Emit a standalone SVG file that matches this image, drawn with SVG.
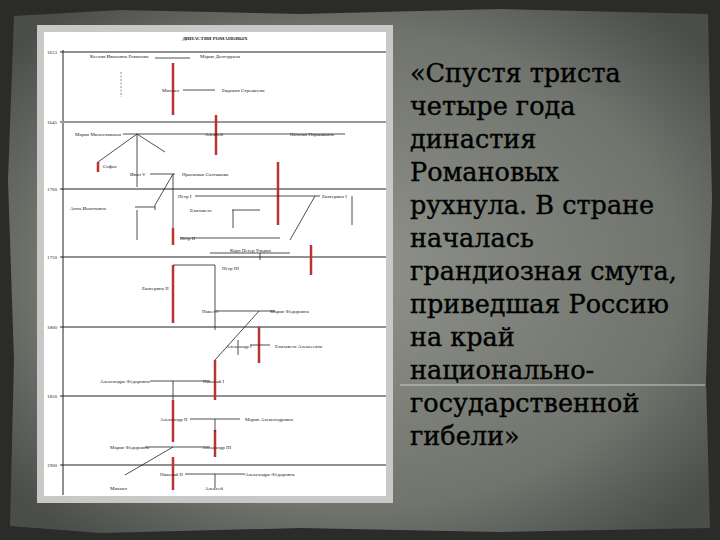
<svg xmlns="http://www.w3.org/2000/svg" width="720" height="540" viewBox="0 0 720 540">
<defs>
<radialGradient id="bg" cx="50%" cy="50%" r="65%">
<stop offset="0" stop-color="#8e928b"/><stop offset="0.7" stop-color="#70746d"/><stop offset="1" stop-color="#4a4d48"/>
</radialGradient>
<style>
.y{stroke:#222;stroke-width:1}
.r{stroke:#b33;stroke-width:2.5}
.c{stroke:#222;stroke-width:0.8;fill:none}
.d{stroke:#444;stroke-width:0.6;stroke-dasharray:2 1.5;fill:none}
.t{font-family:"Liberation Serif",serif;font-size:5px;fill:#222}
.m{font-family:"DejaVu Serif","Liberation Serif",serif;font-size:25.5px;fill:#000;stroke:#000;stroke-width:0.4}
</style>
</defs>
<rect width="720" height="540" fill="#2b2c2a"/>
<path d="M14 16 L120 10 L300 14 L500 9 L708 14 L712 200 L706 380 L710 528 L500 532 L300 528 L100 533 L10 526 L14 360 L8 180 Z" fill="url(#bg)"/>
<g id="tree">
<rect x="37" y="25" width="356" height="478" fill="#c8c8c8"/>
<rect x="44" y="32" width="342" height="464" fill="#fff"/>
<text class="t" x="215" y="40" text-anchor="middle" font-weight="bold">ДИНАСТИЯ РОМАНОВЫХ</text>
<line class="y" x1="63" y1="50" x2="63" y2="495"/>
<g class="y">
<line x1="60" y1="52" x2="386" y2="52"/>
<line x1="60" y1="122" x2="386" y2="122" stroke-width="2" stroke="#999"/>
<line x1="60" y1="189" x2="386" y2="189"/>
<line x1="60" y1="257" x2="386" y2="257"/>
<line x1="60" y1="327" x2="386" y2="327"/>
<line x1="60" y1="396" x2="386" y2="396"/>
<line x1="60" y1="465" x2="386" y2="465"/>
</g>
<g class="t" font-size="4">
<text x="47" y="54">1613</text><text x="47" y="124">1645</text><text x="47" y="191">1700</text>
<text x="47" y="259">1750</text><text x="47" y="329">1800</text><text x="47" y="398">1850</text><text x="47" y="467">1900</text>
</g>
<g class="r">
<line x1="173" y1="63" x2="173" y2="115"/><line x1="216" y1="115" x2="216" y2="155"/>
<line x1="98" y1="162" x2="98" y2="172"/><line x1="278" y1="162" x2="278" y2="225"/>
<line x1="173" y1="228" x2="173" y2="245"/><line x1="311" y1="245" x2="311" y2="275"/>
<line x1="173" y1="265" x2="173" y2="323"/><line x1="259" y1="327" x2="259" y2="363"/>
<line x1="215" y1="360" x2="215" y2="400"/><line x1="173" y1="400" x2="173" y2="442"/>
<line x1="215" y1="430" x2="215" y2="457"/><line x1="173" y1="457" x2="173" y2="490"/>
</g>
<line class="d" x1="121" y1="72" x2="121" y2="97"/>
<g class="c">
<path d="M155 58 H190"/><path d="M183 90 H215"/>
<path d="M123 134 H345"/><path d="M137 134 V187"/><path d="M137 134 L98 162"/><path d="M137 134 L165 152"/>
<path d="M150 174 H175"/><path d="M173 174 V228"/><path d="M173 174 L155 205"/><path d="M155 205 V210"/>
<path d="M135 207 H155"/><path d="M137 210 V240"/>
<path d="M195 196 H320"/><path d="M315 196 L290 240"/><path d="M352 196 V225"/>
<path d="M232 210 H260"/><path d="M233 210 V228"/><path d="M180 238 H280"/>
<path d="M210 253 H290"/><path d="M260 253 V260"/>
<path d="M173 265 H215"/><path d="M215 265 V330"/><path d="M215 311 H275"/>
<path d="M259 311 L215 360"/><path d="M238 340 V355"/><path d="M250 345 H270"/>
<path d="M150 381 H210"/><path d="M173 381 V400"/>
<path d="M190 419 H215"/><path d="M215 419 H240"/><path d="M215 419 V432"/>
<path d="M145 447 H210"/><path d="M173 447 L125 475"/>
<path d="M185 474 H215"/><path d="M215 474 H245"/><path d="M215 474 V488"/>
</g>
<g class="t" font-size="4.5">
<text x="90" y="58">Ксения Ивановна Романова</text><text x="200" y="58">Мария Долгорукая</text>
<text x="162" y="92">Михаил</text><text x="222" y="92">Евдокия Стрешнева</text>
<text x="75" y="136">Мария Милославская</text><text x="205" y="136">Алексей</text><text x="290" y="136">Наталья Нарышкина</text>
<text x="103" y="168">Софья</text><text x="130" y="176">Иван V</text><text x="182" y="176">Прасковья Салтыкова</text>
<text x="178" y="198">Пётр I</text><text x="322" y="198">Екатерина I</text>
<text x="70" y="210">Анна Иоанновна</text><text x="190" y="212">Елизавета</text>
<text x="180" y="240">Пётр II</text><text x="230" y="252">Карл Петер Ульрих</text>
<text x="142" y="290">Екатерина II</text><text x="222" y="270">Пётр III</text>
<text x="202" y="313">Павел I</text><text x="270" y="313">Мария Фёдоровна</text>
<text x="226" y="348">Александр I</text><text x="275" y="348">Елизавета Алексеевна</text>
<text x="100" y="383">Александра Фёдоровна</text><text x="203" y="383">Николай I</text>
<text x="160" y="421">Александр II</text><text x="245" y="421">Мария Александровна</text>
<text x="110" y="449">Мария Фёдоровна</text><text x="202" y="449">Александр III</text>
<text x="160" y="476">Николай II</text><text x="245" y="476">Александра Фёдоровна</text>
<text x="110" y="490">Михаил</text><text x="205" y="490">Алексей</text>
</g>
</g>
<g id="caption">
<text class="m" x="410" y="82">«Спустя триста</text>
<text class="m" x="410" y="115">четыре года</text>
<text class="m" x="410" y="148">династия</text>
<text class="m" x="410" y="181">Романовых</text>
<text class="m" x="410" y="214">рухнула. В стране</text>
<text class="m" x="410" y="247">началась</text>
<text class="m" x="410" y="280">грандиозная смута,</text>
<text class="m" x="410" y="313">приведшая  Россию</text>
<text class="m" x="410" y="346">на край</text>
<text class="m" x="410" y="379">национально-</text>
<text class="m" x="410" y="412">государственной</text>
<text class="m" x="410" y="445">гибели»</text>
<line x1="400" y1="385" x2="705" y2="385" stroke="#c9ccc6" stroke-width="1"/>
</g>
</svg>
